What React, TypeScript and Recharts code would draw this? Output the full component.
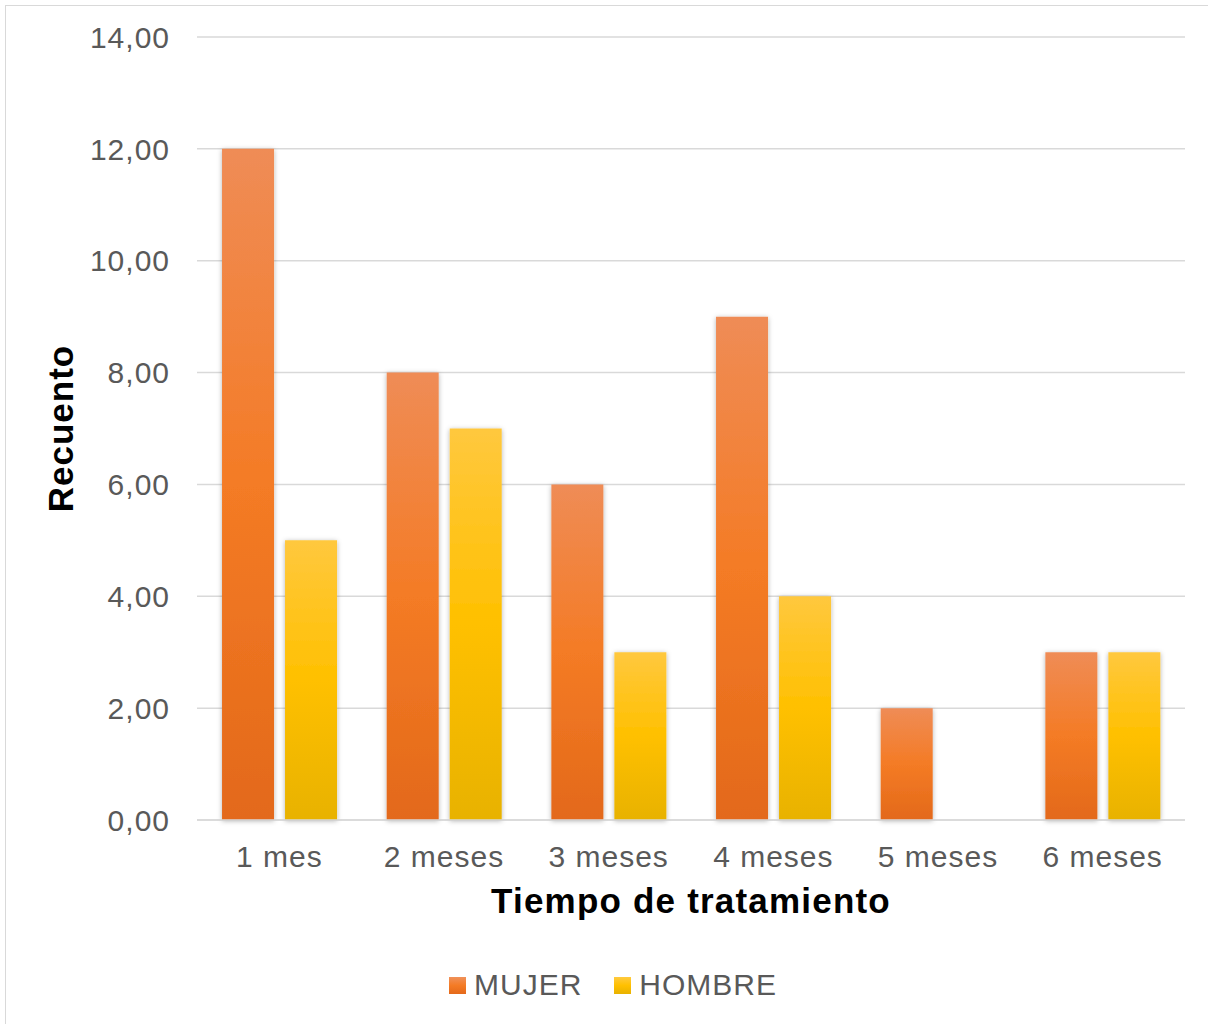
import React from "react";
import { BarChart, Bar, XAxis, YAxis, CartesianGrid, Label } from "recharts";

// Treatment duration categories
const categories = ["1 mes", "2 meses", "3 meses", "4 meses", "5 meses", "6 meses"];
// Counts per sex
const mujer = [12, 8, 6, 9, 2, 3];
const hombre = [5, 7, 3, 4, 0, 3];
// Y axis ticks
const yTicks = [0, 2, 4, 6, 8, 10, 12, 14];

const seriesNames = { mujer: "MUJER", hombre: "HOMBRE" };

const data = categories.map((name, i) => ({ name, mujer: mujer[i], hombre: hombre[i] }));

const FONT = "'Liberation Sans', Arial, sans-serif";
const TEXT_GREY = "#595959";
const GRID = "#d9d9d9";

const fmt = (v: number) => v.toFixed(2).replace(".", ",");

const legendItems = [
  { label: seriesNames.mujer, css: "linear-gradient(#f0915a, #f47b25 50%, #e4691b)" },
  { label: seriesNames.hombre, css: "linear-gradient(#ffca40, #ffc000 50%, #e8b200)" },
];

function ChartLegend() {
  return (
    <div
      style={{
        position: "absolute",
        left: 0,
        top: 970,
        width: 1226,
        display: "flex",
        justifyContent: "center",
        alignItems: "center",
        height: 30,
      }}
    >
      {legendItems.map((it, i) => (
        <div key={it.label} style={{ display: "flex", alignItems: "center", marginLeft: i === 0 ? 0 : 32 }}>
          <div style={{ width: 17, height: 17, background: it.css, marginRight: 8 }} />
          <span style={{ fontFamily: FONT, fontSize: 30, color: TEXT_GREY, lineHeight: "30px", letterSpacing: 1 }}>
            {it.label}
          </span>
        </div>
      ))}
    </div>
  );
}

export default function App() {
  return (
    <div style={{ position: "absolute", left: 0, top: 0, width: 1208, height: 1024, background: "#fff", overflow: "hidden" }}>
      <div
        style={{
          position: "absolute",
          left: 5,
          top: 5,
          width: 1240,
          height: 1060,
          border: `1.5px solid ${GRID}`,
          boxSizing: "border-box",
        }}
      />
      <div style={{ position: "absolute", left: 0, top: 0 }}>
        <BarChart
          width={1208}
          height={1024}
          data={data}
          margin={{ top: 37, right: 23, bottom: 174, left: 0 }}
          barCategoryGap="15.2%"
          barGap={11}
        >
          <defs>
            <linearGradient id="gradMujer" x1="0" y1="0" x2="0" y2="1">
              <stop offset="0%" stopColor="#ef8c56" />
              <stop offset="50%" stopColor="#f47b25" />
              <stop offset="100%" stopColor="#e3691a" />
            </linearGradient>
            <linearGradient id="gradHombre" x1="0" y1="0" x2="0" y2="1">
              <stop offset="0%" stopColor="#ffc83e" />
              <stop offset="50%" stopColor="#ffc000" />
              <stop offset="100%" stopColor="#e8b200" />
            </linearGradient>
            <filter id="barShadow" x="-30%" y="-10%" width="160%" height="120%">
              <feDropShadow dx="0" dy="1" stdDeviation="2.5" floodColor="#000" floodOpacity="0.3" />
            </filter>
          </defs>
          <CartesianGrid vertical={false} stroke={GRID} strokeWidth={1.5} />
          <XAxis
            dataKey="name"
            height={30}
            axisLine={{ stroke: GRID, strokeWidth: 1.5 }}
            tickLine={false}
            tickSize={0}
            tickMargin={26}
            tick={{ fill: TEXT_GREY, fontSize: 30, fontFamily: FONT, letterSpacing: 1 }}
            interval={0}
          >
            <Label
              content={(props: any) => {
                const vb = props.viewBox;
                return (
                  <text
                    x={vb.x + vb.width / 2}
                    y={913}
                    textAnchor="middle"
                    fontFamily={FONT}
                    fontSize={35}
                    fontWeight="bold"
                    letterSpacing={1.2}
                    fill="#000"
                  >
                    Tiempo de tratamiento
                  </text>
                );
              }}
            />
          </XAxis>
          <YAxis
            width={197}
            domain={[0, 14]}
            ticks={yTicks}
            axisLine={false}
            tickLine={false}
            tickSize={0}
            tickMargin={27}
            tickFormatter={fmt}
            tick={{ fill: TEXT_GREY, fontSize: 30, fontFamily: FONT, letterSpacing: 1 }}
          >
            <Label
              content={(props: any) => {
                const vb = props.viewBox;
                const cy = vb.y + vb.height / 2;
                return (
                  <text
                    x={73}
                    y={cy}
                    transform={`rotate(-90, 73, ${cy})`}
                    textAnchor="middle"
                    fontFamily={FONT}
                    fontSize={35}
                    fontWeight="bold"
                    letterSpacing={1}
                    fill="#000"
                  >
                    Recuento
                  </text>
                );
              }}
            />
          </YAxis>
          <Bar
            dataKey="mujer"
            name={seriesNames.mujer}
            fill="url(#gradMujer)"
            filter="url(#barShadow)"
            isAnimationActive={false}
          />
          <Bar
            dataKey="hombre"
            name={seriesNames.hombre}
            fill="url(#gradHombre)"
            filter="url(#barShadow)"
            isAnimationActive={false}
          />
        </BarChart>
      </div>
      <ChartLegend />
    </div>
  );
}
